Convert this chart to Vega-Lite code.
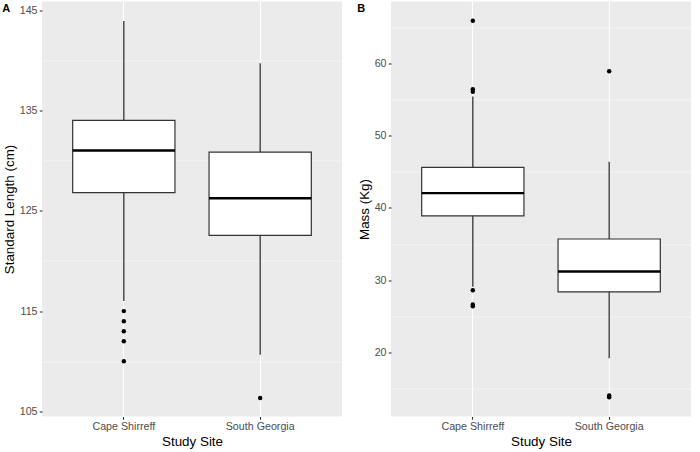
{
  "$schema": "https://vega.github.io/schema/vega-lite/v6.json",
  "padding": {"left": 2, "top": 1.5, "right": 8, "bottom": 2},
  "spacing": 15,
  "datasets": {
    "lengthStats": [
      {"site": "Cape Shirreff", "lower": 116.0, "q1": 126.8, "median": 131.0, "q3": 134.0, "upper": 143.9},
      {"site": "South Georgia", "lower": 110.65, "q1": 122.55, "median": 126.25, "q3": 130.85, "upper": 139.7}
    ],
    "lengthOut": [
      {"site": "Cape Shirreff", "value": 115.0},
      {"site": "Cape Shirreff", "value": 114.0},
      {"site": "Cape Shirreff", "value": 113.0},
      {"site": "Cape Shirreff", "value": 112.0},
      {"site": "Cape Shirreff", "value": 110.0},
      {"site": "South Georgia", "value": 106.35}
    ],
    "massStats": [
      {"site": "Cape Shirreff", "lower": 29.1, "q1": 38.9, "median": 42.05, "q3": 45.6, "upper": 55.4},
      {"site": "South Georgia", "lower": 19.2, "q1": 28.4, "median": 31.2, "q3": 35.7, "upper": 46.4}
    ],
    "massOut": [
      {"site": "Cape Shirreff", "value": 65.9},
      {"site": "Cape Shirreff", "value": 56.4},
      {"site": "Cape Shirreff", "value": 56.05},
      {"site": "Cape Shirreff", "value": 28.6},
      {"site": "Cape Shirreff", "value": 26.65},
      {"site": "Cape Shirreff", "value": 26.4},
      {"site": "South Georgia", "value": 58.9},
      {"site": "South Georgia", "value": 14.05},
      {"site": "South Georgia", "value": 13.8}
    ]
  },
  "config": {
    "view": {"fill": "#EBEBEB", "stroke": null},
    "font": "Liberation Sans",
    "axis": {
      "domain": false,
      "tickColor": "#333333",
      "tickSize": 2.75,
      "tickWidth": 1.1,
      "labelColor": "#4D4D4D",
      "labelFontSize": 10.7,
      "labelFont": "Liberation Sans",
      "titleFont": "Liberation Sans",
      "titleFontSize": 13.4,
      "titleFontWeight": "normal",
      "titleColor": "#000000",
      "gridColor": "#FFFFFF",
      "gridWidth": 1.1,
      "gridOpacity": 1,
      "labelPadding": 2.2
    },
    "title": {"font": "Liberation Sans", "fontSize": 11, "fontWeight": "bold", "color": "#000000", "anchor": "start", "frame": "bounds"}
  },
  "hconcat": [
    {
      "width": 300,
      "height": 415,
      "title": {"text": "A", "offset": -12, "baseline": "top"},
      "resolve": {"axis": {"y": "independent"}},
      "layer": [
        {
          "data": {"name": "lengthStats"},
          "mark": {"type": "rule", "color": "#333333", "strokeWidth": 1.3},
          "encoding": {
            "x": {"field": "site", "type": "nominal", "sort": null, "scale": {"paddingInner": 0.25, "paddingOuter": 0.225},
                  "axis": {"title": "Study Site", "labelAngle": 0, "bandPosition": 0.5, "grid": true, "titlePadding": 3}},
            "y": {"field": "lower", "type": "quantitative", "scale": {"domain": [104.5, 145.85], "nice": false, "zero": false},
                  "axis": {"values": [110, 120, 130, 140], "labels": false, "ticks": false, "title": null, "gridWidth": 0.55, "orient": "left"}},
            "y2": {"field": "upper"}
          }
        },
        {
          "data": {"name": "lengthStats"},
          "mark": {"type": "bar", "fill": "#FFFFFF", "stroke": "#333333", "strokeWidth": 1.2},
          "encoding": {
            "x": {"field": "site", "type": "nominal", "sort": null},
            "y": {"field": "q1", "type": "quantitative",
                  "axis": {"values": [105, 115, 125, 135, 145], "title": "Standard Length (cm)", "titlePadding": 3, "orient": "left"}},
            "y2": {"field": "q3"}
          }
        },
        {
          "data": {"name": "lengthStats"},
          "mark": {"type": "tick", "orient": "horizontal", "color": "#000000", "thickness": 2.4, "size": 102.3, "opacity": 1},
          "encoding": {
            "x": {"field": "site", "type": "nominal", "sort": null},
            "y": {"field": "median", "type": "quantitative", "axis": null}
          }
        },
        {
          "data": {"name": "lengthOut"},
          "mark": {"type": "point", "filled": true, "color": "#000000", "size": 20, "opacity": 1},
          "encoding": {
            "x": {"field": "site", "type": "nominal", "sort": null},
            "y": {"field": "value", "type": "quantitative", "axis": null}
          }
        }
      ]
    },
    {
      "width": 300,
      "height": 415,
      "title": {"text": "B", "offset": -12, "baseline": "top"},
      "resolve": {"axis": {"y": "independent"}},
      "layer": [
        {
          "data": {"name": "massStats"},
          "mark": {"type": "rule", "color": "#333333", "strokeWidth": 1.3},
          "encoding": {
            "x": {"field": "site", "type": "nominal", "sort": null, "scale": {"paddingInner": 0.25, "paddingOuter": 0.225},
                  "axis": {"title": "Study Site", "labelAngle": 0, "bandPosition": 0.5, "grid": true, "titlePadding": 3}},
            "y": {"field": "lower", "type": "quantitative", "scale": {"domain": [11.15, 68.55], "nice": false, "zero": false},
                  "axis": {"values": [15, 25, 35, 45, 55, 65], "labels": false, "ticks": false, "title": null, "gridWidth": 0.55, "orient": "left"}},
            "y2": {"field": "upper"}
          }
        },
        {
          "data": {"name": "massStats"},
          "mark": {"type": "bar", "fill": "#FFFFFF", "stroke": "#333333", "strokeWidth": 1.2},
          "encoding": {
            "x": {"field": "site", "type": "nominal", "sort": null},
            "y": {"field": "q1", "type": "quantitative",
                  "axis": {"values": [20, 30, 40, 50, 60], "title": "Mass (Kg)", "titlePadding": 3, "orient": "left"}},
            "y2": {"field": "q3"}
          }
        },
        {
          "data": {"name": "massStats"},
          "mark": {"type": "tick", "orient": "horizontal", "color": "#000000", "thickness": 2.4, "size": 102.3, "opacity": 1},
          "encoding": {
            "x": {"field": "site", "type": "nominal", "sort": null},
            "y": {"field": "median", "type": "quantitative", "axis": null}
          }
        },
        {
          "data": {"name": "massOut"},
          "mark": {"type": "point", "filled": true, "color": "#000000", "size": 20, "opacity": 1},
          "encoding": {
            "x": {"field": "site", "type": "nominal", "sort": null},
            "y": {"field": "value", "type": "quantitative", "axis": null}
          }
        }
      ]
    }
  ]
}
